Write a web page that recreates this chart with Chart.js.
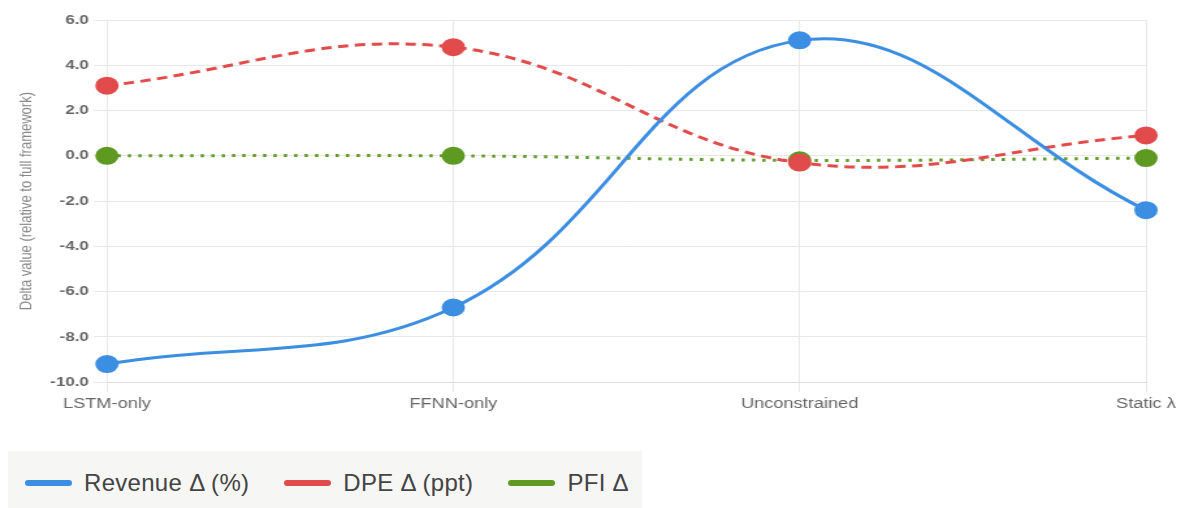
<!DOCTYPE html>
<html lang="en">
<head>
  <meta charset="UTF-8" />
  <title>Ablation deltas</title>
  <script src="https://cdn.jsdelivr.net/npm/chart.js"></script>
  <style>
    body {
      margin: 0;
      background: #fff;
      font-family: "Liberation Sans", Arial, sans-serif;
    }
    #wrap {
      position: absolute;
      left: 0;
      top: 0;
      width: 908px;
      height: 432px;
      transform: scaleX(1.3007);
      transform-origin: 0 0;
    }
    #legend {
      position: absolute;
      left: 8px;
      top: 451px;
      width: 634px;
      height: 57px;
      padding-left: 17px;
      background: #f6f6f4;
      display: flex;
      align-items: center;
      padding-top: 6px;
      box-sizing: border-box;
      font-size: 24px;
      letter-spacing: 0.3px;
      color: #444;
      white-space: nowrap;
    }
    .item {
      display: flex;
      align-items: center;
      flex: none;
      margin-right: 35px;
    }
    .swatch {
      width: 47px;
      height: 6px;
      border-radius: 3px;
      margin-right: 12px;
    }
  </style>
</head>
<body>
  <div id="wrap"><canvas id="chart"></canvas></div>
  <div id="legend"></div>

  <script>
    const categories = ['LSTM-only', 'FFNN-only', 'Unconstrained', 'Static λ'];
    const revenueDelta = [-9.2, -6.7, 5.1, -2.4];
    const dpeDelta = [3.1, 4.8, -0.3, 0.9];
    const pfiDelta = [0.0, 0.0, -0.2, -0.1];
    const seriesNames = ['Revenue Δ (%)', 'DPE Δ (ppt)', 'PFI Δ'];
    const yMin = -10, yMax = 6, yStep = 2;

    const colors = ['#3b8ee2', '#e24b4b', '#5e9a22'];
    const dashes = [[], [8, 5], [2.5, 5.5]];
    const values = [revenueDelta, dpeDelta, pfiDelta];

    const datasets = seriesNames.map((name, i) => ({
      label: name,
      data: values[i],
      borderColor: colors[i],
      backgroundColor: colors[i],
      borderWidth: 3,
      borderDash: dashes[i],
      pointRadius: 8,
      pointBorderWidth: 2,
      pointBorderColor: colors[i],
      tension: 0.4,
      fill: false
    }));

    new Chart(document.getElementById('chart'), {
      type: 'line',
      data: { labels: categories, datasets: datasets },
      options: {
        responsive: true,
        maintainAspectRatio: false,
        animation: false,
        layout: { padding: { left: 9, right: 2, top: 20, bottom: 15 } },
        plugins: {
          legend: { display: false },
          tooltip: { enabled: false }
        },
        scales: {
          x: {
            grid: { color: '#e8e8e8', tickLength: 10 },
            border: { color: '#dcdcdc' },
            ticks: {
              color: '#666',
              padding: 4,
              maxRotation: 0,
              font: { family: '"Liberation Sans", Arial, sans-serif', size: 14 }
            }
          },
          y: {
            min: yMin,
            max: yMax,
            grid: { color: '#e8e8e8', tickLength: 10 },
            border: { display: false },
            ticks: {
              stepSize: yStep,
              color: '#666',
              padding: 4,
              font: { family: '"Liberation Sans", Arial, sans-serif', size: 13, weight: 'bold' },
              callback: v => v.toFixed(1)
            },
            title: {
              display: true,
              text: 'Delta value (relative to full framework)',
              color: '#888',
              padding: { top: 4, bottom: 6 },
              font: { family: '"Liberation Sans", Arial, sans-serif', size: 13 }
            }
          }
        }
      }
    });

    // html legend below the chart
    const legend = document.getElementById('legend');
    seriesNames.forEach((name, i) => {
      const item = document.createElement('div');
      item.className = 'item';
      item.innerHTML = '<span class="swatch" style="background:' + colors[i] + '"></span><span>' + name + '</span>';
      legend.appendChild(item);
    });
  </script>
</body>
</html>
